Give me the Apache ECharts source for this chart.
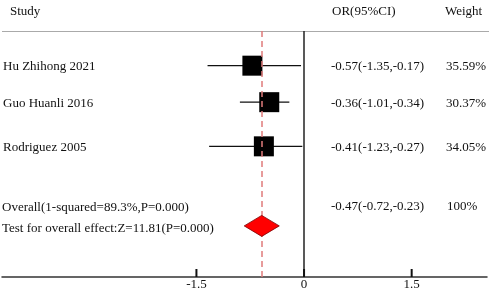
<!DOCTYPE html>
<html>
<head>
<meta charset="utf-8">
<script src="https://cdn.jsdelivr.net/npm/echarts@6/dist/echarts.min.js"></script>
<style>
  html, body { margin: 0; padding: 0; background: #fff; }
  #chart { width: 489px; height: 291px; }
</style>
</head>
<body>
<div id="chart"></div>
<script>
// study rows
const studies = ["Hu Zhihong 2021", "Guo Huanli 2016", "Rodriguez 2005"];
const ciTexts = ["-0.57(-1.35,-0.17)", "-0.36(-1.01,-0.34)", "-0.41(-1.23,-0.27)"];
const weights = ["35.59%", "30.37%", "34.05%"];
// plotted positions
const estimates = [-0.72, -0.485, -0.56];
const ciLow = [-1.345, -0.894, -1.323];
const ciHigh = [-0.042, -0.205, -0.024];
// row height above the x axis
const rows = [5.79, 4.79, 3.58];
// pooled
const pooledEst = -0.59;
const pooledLow = -0.834;
const pooledHigh = -0.345;
const pooledRow = 1.4;
const pooledText = "-0.47(-0.72,-0.23)";
const pooledWeight = "100%";
const overallLabel = "Overall(1-squared=89.3%,P=0.000)";
const testLabel = "Test for overall effect:Z=11.81(P=0.000)";
const xTicks = [-1.5, 0, 1.5];

const FONT = "'Liberation Serif', 'Times New Roman', serif";
const chart = echarts.init(document.getElementById("chart"));

const txt = (x, y, s) => ({
  type: "text", x: x, y: y,
  style: { text: s, font: "13px " + FONT, fill: "#111", verticalAlign: "middle" }
});

chart.setOption({
  animation: false,
  grid: { left: 2, right: 2, top: 31, bottom: 14 },
  xAxis: {
    type: "value", min: -4.21, max: 2.55,
    splitLine: { show: false },
    axisLine: { lineStyle: { color: "#333", width: 1.5 } },
    axisTick: { show: false },
    axisLabel: { customValues: xTicks, margin: 1, color: "#111", fontSize: 13, fontFamily: FONT }
  },
  yAxis: { type: "value", min: 0, max: 6.74, show: false },
  series: [
    {
      type: "custom",
      renderItem: (params, api) => {
        const lo = api.coord([api.value(0), api.value(3)]);
        const hi = api.coord([api.value(1), api.value(3)]);
        const c = api.coord([api.value(2), api.value(3)]);
        return {
          type: "group",
          children: [
            { type: "line", shape: { x1: lo[0], y1: lo[1], x2: hi[0], y2: hi[1] },
              style: { stroke: "#111", lineWidth: 1.3 } },
            { type: "rect", shape: { x: c[0] - 10, y: c[1] - 10, width: 20, height: 20 },
              style: { fill: "#000" } }
          ]
        };
      },
      data: studies.map((s, i) => [ciLow[i], ciHigh[i], estimates[i], rows[i]]),
      markLine: {
        silent: true, symbol: "none", label: { show: false },
        data: [
          { xAxis: 0, lineStyle: { color: "#222", type: "solid", width: 1.5 } },
          { xAxis: pooledEst, lineStyle: { color: "#e07b7b", type: [6, 4], width: 1.5 } }
        ]
      }
    },
    {
      // short tick marks standing on the x axis
      type: "custom",
      z: 6,
      renderItem: (params, api) => {
        const p = api.coord([api.value(0), api.value(1)]);
        return {
          type: "rect",
          shape: { x: p[0] - 1, y: p[1] - 8, width: 2, height: 8 },
          style: { fill: "#111" }
        };
      },
      data: xTicks.map(v => [v, 0])
    },
    {
      type: "custom",
      z: 5,
      renderItem: (params, api) => {
        const l = api.coord([api.value(0), api.value(3)]);
        const r = api.coord([api.value(1), api.value(3)]);
        const c = api.coord([api.value(2), api.value(3)]);
        return {
          type: "polygon",
          shape: { points: [[l[0], c[1]], [c[0], c[1] - 10.5], [r[0], c[1]], [c[0], c[1] + 10.5]] },
          style: { fill: "#ff0000", stroke: "#7a0000", lineWidth: 0.8 }
        };
      },
      data: [[pooledLow, pooledHigh, pooledEst, pooledRow]]
    }
  ]
});

const rowY = r => chart.convertToPixel({ gridIndex: 0 }, [0, r])[1];
const graphic = [
  { type: "line", shape: { x1: 2, y1: 31.5, x2: 489, y2: 31.5 }, style: { stroke: "#aaa", lineWidth: 1 } },
  txt(10, 12, "Study"),
  txt(332, 12, "OR(95%CI)"),
  txt(445, 12, "Weight"),
  txt(2, 208, overallLabel),
  txt(2, 229, testLabel),
  txt(331, 207, pooledText),
  txt(447, 207, pooledWeight)
];
studies.forEach((s, i) => {
  const y = rowY(rows[i]) + 1;
  graphic.push(txt(3, y, s));
  graphic.push(txt(331, y, ciTexts[i]));
  graphic.push(txt(446, y, weights[i]));
});
chart.setOption({ graphic: graphic });

window.addEventListener("resize", () => chart.resize());
</script>
</body>
</html>
